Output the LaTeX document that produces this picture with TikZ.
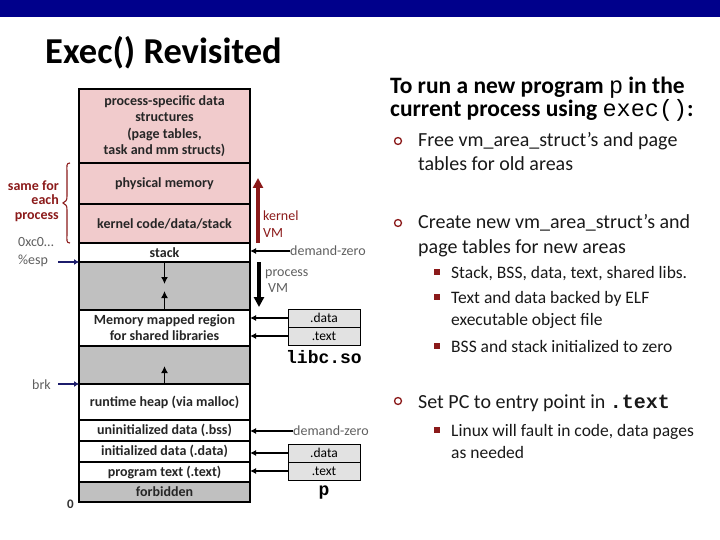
\documentclass[tikz,border=0pt]{standalone}
\usepackage{fontspec}
\setmainfont{Carlito}
\newfontfamily\cour{Liberation Mono}
\usetikzlibrary{arrows.meta}
\definecolor{barblue}{HTML}{00008B}
\definecolor{pinkfill}{HTML}{F1CBCC}
\definecolor{grayfill}{HTML}{C0C0C0}
\definecolor{dred}{HTML}{8B1A1A}
\definecolor{gtext}{HTML}{5F5F5F}
\definecolor{boxgray}{HTML}{E2E2E2}
\definecolor{navyarrow}{HTML}{1C1C6B}
\tikzset{
  mem/.style={draw=black, line width=1.8pt, minimum width=171pt, inner sep=0pt, outer sep=0pt,
    anchor=north west, align=center, font=\fontsize{14}{16}\selectfont\bfseries, text=black!85},
  libbox/.style={draw=black, line width=0.9pt, fill=boxgray, minimum width=72pt, minimum height=18pt,
    inner sep=0pt, font=\fontsize{13.5}{15}\selectfont, text=black},
  conn/.style={line width=1.8pt, -{Latex[length=6pt,width=6pt]}},
  gaparrow/.style={line width=1.8pt, -{Latex[length=7pt,width=7pt]}},
  bigarrow/.style={line width=3.2pt, -{Triangle[length=10pt,width=10pt]}},
  navyconn/.style={navyarrow, line width=2.2pt, -{Latex[length=5pt,width=6pt]}},
  glabel/.style={text=gtext, font=\fontsize{14}{16}\selectfont, inner sep=0pt},
  rlabel/.style={text=dred, font=\fontsize{14}{15}\selectfont\bfseries, inner sep=0pt},
  head/.style={anchor=base west, inner sep=0pt, font=\fontsize{23.5}{25}\selectfont\bfseries},
  btext/.style={anchor=base west, inner sep=0pt, font=\fontsize{20}{22}\selectfont, text=black!90},
  stext/.style={anchor=base west, inner sep=0pt, font=\fontsize{17.5}{20}\selectfont, text=black!90},
  circbullet/.style={draw=dred, line width=1.3pt, circle, minimum size=7pt, inner sep=0pt},
  sqbullet/.style={fill=dred, minimum size=6pt, inner sep=0pt}
}
\begin{document}
\begin{tikzpicture}[x=1pt,y=-1pt]
\useasboundingbox (0,0) rectangle (720,540);
\fill[barblue] (0,0) rectangle (720,17);
\node[anchor=base west, inner sep=0pt, font=\fontsize{36.5}{40}\selectfont\bfseries] (title) at (45,64) {Exec() Revisited};

% memory column
\node[mem, fill=pinkfill, minimum height=74pt, font=\fontsize{14}{16.5}\selectfont\bfseries] (psd) at (79,89)
  {process-specific data\\structures\\(page tables,\\task and mm structs)};
\node[mem, fill=pinkfill, minimum height=41pt] (phys) at (79,163) {physical memory};
\node[mem, fill=pinkfill, minimum height=39pt] (kcode) at (79,204) {kernel code/data/stack};
\node[mem, fill=white, minimum height=19pt] (stack) at (79,243) {stack};
\node[mem, fill=grayfill, minimum height=48pt] (gap1) at (79,262) {};
\node[mem, fill=white, minimum height=36pt] (mmap) at (79,310) {Memory mapped region\\for shared libraries};
\node[mem, fill=grayfill, minimum height=38pt] (gap2) at (79,346) {};
\node[mem, fill=white, minimum height=36pt] (heap) at (79,384) {runtime heap (via malloc)};
\node[mem, fill=white, minimum height=21pt] (bss) at (79,420) {uninitialized data (.bss)};
\node[mem, fill=white, minimum height=21pt] (data) at (79,441) {initialized data (.data)};
\node[mem, fill=white, minimum height=20pt] (text) at (79,462) {program text (.text)};
\node[mem, fill=grayfill, minimum height=20pt] (forb) at (79,482) {forbidden};

\draw[gaparrow] (gap1.north) -- ++(0,22);
\draw[gaparrow] (gap1.south) -- ++(0,-19);
\draw[gaparrow] (gap2.south) -- ++(0,-18);

% left labels
\node[rlabel, anchor=base east] (same1) at (59,191) {same for};
\node[rlabel, anchor=base east] (same2) at (59,205) {each};
\node[rlabel, anchor=base east] (same3) at (59,220) {process};
\draw[dred, line width=1.1pt] (70,163) .. controls (66,163) and (67,166) .. (67,172) -- (67,196)
  .. controls (67,200) and (66,202) .. (63,203) .. controls (66,204) and (67,206) .. (67,210)
  -- (67,234) .. controls (67,240) and (66,243) .. (70,243);
\node[glabel, anchor=base west] (hex) at (18,247) {0xc0…};
\node[glabel, anchor=base west] (esp) at (18,264) {\%esp};
\coordinate (espend) at (58,262);
\draw[navyconn] (espend) -- (espend -| stack.west);
\node[glabel, anchor=base west] (brk) at (32,389) {brk};
\coordinate (brkend) at (58,384);
\draw[navyconn] (brkend) -- (brkend -| heap.west);
\node[glabel, text=black!80, font=\fontsize{13}{14}\selectfont\bfseries, anchor=base west] (zero) at (67,508) {0};

% right of column
\coordinate (kvbot) at (258,243);
\coordinate (kvtop) at (258,178);
\draw[bigarrow, dred] (kvbot) -- (kvtop);
\node[rlabel, font=\fontsize{14}{15}\selectfont, anchor=base west] (kv1) at (263,221) {kernel};
\node[rlabel, font=\fontsize{14}{15}\selectfont, anchor=base west] (kv2) at (263,237) {VM};

\node[glabel, anchor=west] (dz1) at (290,251) {demand-zero};
\draw[conn] (dz1.west) -- (dz1.west -| stack.east);

\coordinate (pvtop) at (259,262);
\coordinate (pvbot) at (259,307);
\draw[bigarrow, black] (pvtop) -- (pvbot);
\node[glabel, anchor=base west] (pv1) at (265,276) {process};
\node[glabel, anchor=base west] (pv2) at (268,292) {VM};

\node[libbox] (ldata) at (324,318) {.data};
\node[libbox] (ltext) at (324,336) {.text};
\node[inner sep=0pt, font=\fontsize{18}{20}\selectfont\cour\bfseries] (libc) at (324,357) {libc.so};
\draw[conn] (ldata.west) -- (ldata.west -| mmap.east);
\draw[conn] (ltext.west) -- (ltext.west -| mmap.east);

\node[glabel, anchor=west] (dz2) at (293,431) {demand-zero};
\draw[conn] (dz2.west) -- (dz2.west -| bss.east);
\node[libbox] (pdata) at (324,453) {.data};
\node[libbox] (ptext) at (324,471) {.text};
\node[inner sep=0pt, font=\fontsize{18}{20}\selectfont\cour\bfseries] (pname) at (324,493) {p};
\draw[conn] (pdata.west) -- (pdata.west -| data.east);
\draw[conn] (ptext.west) -- (ptext.west -| text.east);

% right text
\node[head] (h1) at (390,94) {To run a new program {\cour\mdseries p} in the};
\node[head] (h2) at (390,117) {current process using {\cour\mdseries exec()}:};

\node[circbullet] (b1) at (398,141) {};
\node[btext] (b1a) at (418,147) {Free vm\_area\_struct’s and page};
\node[btext] (b1b) at (418,171) {tables for old areas};

\node[circbullet] (b2) at (398,223) {};
\node[btext] (b2a) at (418,229) {Create new vm\_area\_struct’s and};
\node[btext] (b2b) at (418,253) {page tables for new areas};

\node[sqbullet] (s1) at (437,272) {};
\node[stext] (s1a) at (451,278) {Stack, BSS, data, text, shared libs.};
\node[sqbullet] (s2) at (437,297) {};
\node[stext] (s2a) at (451,303) {Text and data backed by ELF};
\node[stext] (s2b) at (451,325) {executable object file};
\node[sqbullet] (s3) at (437,346) {};
\node[stext] (s3a) at (451,352) {BSS and stack initialized to zero};

\node[circbullet] (b3) at (398,401) {};
\node[btext] (b3a) at (418,408) {Set PC to entry point in {\cour\bfseries .text}};
\node[sqbullet] (s4) at (437,430) {};
\node[stext] (s4a) at (451,436) {Linux will fault in code, data pages};
\node[stext] (s4b) at (451,458) {as needed};
\end{tikzpicture}
\end{document}
